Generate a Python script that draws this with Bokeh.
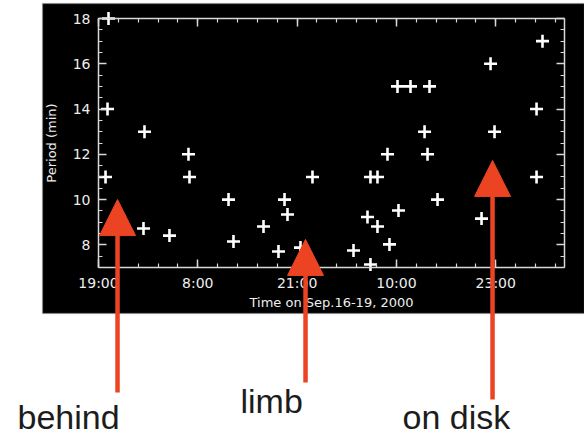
from bokeh.plotting import figure
from bokeh.models import (LinearAxis, FixedTicker, BoxAnnotation, Arrow,
                          NormalHead, Label, Range1d)
from bokeh.embed import file_html
from bokeh.resources import INLINE

# ---------------- data ----------------
# hours since 19:00 on Sep. 16, 2000
hours = [0.92, 1.18, 1.31, 5.89, 6.02, 9.29, 11.78, 11.91, 17.02, 17.67,
         21.6, 23.56, 24.35, 24.74, 26.44, 28.01, 33.38, 35.21, 35.6, 35.6,
         36.52, 36.52, 37.83, 38.09, 39.14, 39.27, 40.84, 42.68, 43.07, 43.33,
         44.38, 50.14, 51.32, 51.84, 57.34, 57.34, 58.12]
period = [11.0, 14.0, 18.0, 8.72, 13.0, 8.41, 12.0, 11.0, 10.0, 8.15,
          8.81, 7.71, 10.0, 9.34, 7.88, 11.0, 7.75, 9.23, 11.0, 7.13,
          11.0, 8.81, 12.0, 8.02, 15.0, 9.52, 15.0, 13.0, 12.0, 15.0,
          10.0, 9.16, 16.0, 13.0, 11.0, 14.0, 17.0]

x_tick_hours = [0, 13, 26, 39, 52]
x_tick_labels = ["19:00", "8:00", "21:00", "10:00", "23:00"]
y_ticks = [8, 10, 12, 14, 16, 18]
x_min, x_max = 0, 61
y_min, y_max = 7, 18

arrow_x = [2.49, 27.1, 51.58]
arrow_tip = [10.0, 8.24, 11.73]
arrow_base = [1.48, 1.92, 1.17]
label_texts = ["behind", "limb", "on disk"]

# ---------------- geometry ----------------
W, H = 584, 438
FL, FR, FT, FB = 98, 564, 18, 267
sx = (FR - FL) / (x_max - x_min)
sy = (FB - FT) / (y_max - y_min)


def px_x(px):
    return x_min + (px - FL) / sx


def px_y(py):
    return y_min + (FB - py) / sy


p = figure(width=W, height=H,
           x_range=Range1d(px_x(0), px_x(W)),
           y_range=Range1d(px_y(H), px_y(0)),
           x_axis_type=None, y_axis_type=None,
           toolbar_location=None, output_backend="svg",
           min_border=0, title=None,
           background_fill_color="white", border_fill_color="white",
           outline_line_color=None)

# black chart panel
panel = BoxAnnotation(left=px_x(42), right=px_x(W), top=px_y(3), bottom=px_y(313),
                      fill_color="black", fill_alpha=1.0,
                      line_color="#9a9a9a", line_width=1.5, level="underlay")
p.add_layout(panel)

AX = "#d8d8d8"
TXT = "#eeeeee"
x_minor = [round(2.6 * k, 2) for k in range(0, 24) if 2.6 * k <= x_max]
y_minor = [y_min + 0.5 * k for k in range(0, 23)]


def style(ax):
    ax.axis_line_color = AX
    ax.axis_line_width = 1.5
    ax.major_tick_line_color = AX
    ax.major_tick_line_width = 1.5
    ax.minor_tick_line_color = AX
    ax.minor_tick_line_width = 1.2
    ax.major_tick_in = 8
    ax.major_tick_out = 0
    ax.minor_tick_in = 4
    ax.minor_tick_out = 0
    ax.major_label_text_color = TXT
    ax.major_label_text_font = "DejaVu Sans"
    ax.major_label_text_font_size = "14px"
    ax.axis_label_text_color = TXT
    ax.axis_label_text_font = "DejaVu Sans"
    ax.axis_label_text_font_size = "13px"
    ax.axis_label_text_font_style = "normal"


xb = LinearAxis(fixed_location=y_min, bounds=(x_min, x_max),
                ticker=FixedTicker(ticks=x_tick_hours, minor_ticks=x_minor),
                major_label_overrides=dict(zip(x_tick_hours, x_tick_labels)),
                axis_label="Time on Sep.16-19, 2000")
style(xb)
xb.major_label_standoff = 7
xb.axis_label_standoff = 1
p.add_layout(xb, "below")

xt = LinearAxis(fixed_location=y_max, bounds=(x_min, x_max),
                ticker=FixedTicker(ticks=x_tick_hours, minor_ticks=x_minor),
                major_label_overrides={t: "" for t in x_tick_hours})
style(xt)
p.add_layout(xt, "above")

yl = LinearAxis(fixed_location=x_min, bounds=(y_min, y_max),
                ticker=FixedTicker(ticks=y_ticks, minor_ticks=y_minor),
                axis_label="Period (min)")
style(yl)
yl.major_label_standoff = 8
yl.axis_label_standoff = 11
p.add_layout(yl, "left")

yr = LinearAxis(fixed_location=x_max, bounds=(y_min, y_max),
                ticker=FixedTicker(ticks=y_ticks, minor_ticks=y_minor),
                major_label_overrides={t: "" for t in y_ticks})
style(yr)
p.add_layout(yr, "right")

# data points
p.scatter(hours, period, marker="cross", size=13,
          line_color="white", line_width=2.6)

# arrows
RED = "#ec4423"
for xa, yt, yb in zip(arrow_x, arrow_tip, arrow_base):
    p.add_layout(Arrow(end=NormalHead(size=36, fill_color=RED, line_color=RED, line_width=1),
                       x_start=xa, y_start=yb, x_end=xa, y_end=yt,
                       line_color=RED, line_width=4.5))

# annotations below the panel
label_px = [(17, 416), (240, 400), (402, 416)]
for txt, (lx, ly) in zip(label_texts, label_px):
    p.add_layout(Label(x=px_x(lx), y=px_y(ly), text=txt,
                       text_font="Liberation Sans", text_font_size="34px",
                       text_color="#1c1c1c", text_baseline="alphabetic"))

open("out.html", "w").write(file_html(p, INLINE))
